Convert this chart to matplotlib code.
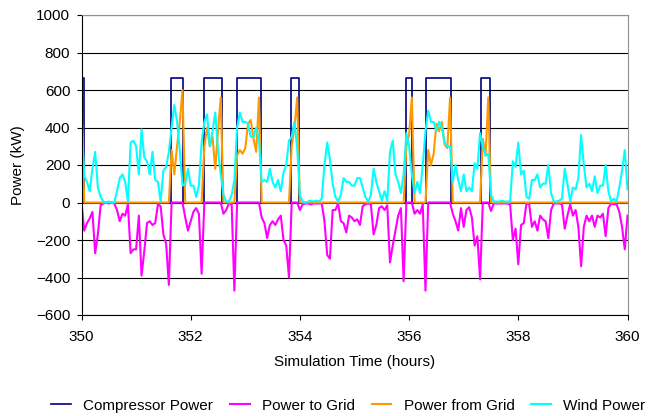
import numpy as np
import matplotlib
matplotlib.use("Agg")
import matplotlib.pyplot as plt

plt.rcParams['font.family'] = ['Liberation Sans', 'DejaVu Sans']

# time grid: 3 minute samples from 350 h to 360 h
t_start, t_step = 350.0, 0.05

# wind power (kW), one value per sample
wind = [468, 140, 110, 60, 180, 270, 80, 30, 5, 0, 5, 0, 0, 60, 130, 150, 110, 5, 320, 330,
        300, 150, 390, 240, 220, 150, 270, 120, 110, 5, 170, 190, 270, 400, 520, 430, 280, 90,
        100, 180, 90, 90, 30, 90, 320,
        430, 470, 300, 380, 480, 280, 150, 40, 5, 5, 40, 120, 400, 480, 430, 430, 420, 350, 350,
        400, 340, 110, 120, 110, 180, 110, 80, 120, 60, 160, 200, 330, 350, 430, 290, 40, 5, 0,
        5, 10, 5, 10, 5, 20, 200, 320,
        230, 100, 30, 5, 40, 130, 110, 110, 90, 90, 130, 130, 80, 30, 5, 40, 180, 110, 60, 10,
        60, 10, 270, 330, 150, 110, 50, 150, 370, 300, 150, 50, 110, 50, 200, 380, 490, 430, 430,
        380, 430, 400, 320, 300, 300, 110, 200, 120, 60,
        150, 60, 80, 60, 210, 180, 370, 300, 250, 260, 40, 5, 5, 5, 10, 5, 5, 5, 220, 190,
        320, 150, 170, 30, 20, 120, 120, 150, 80, 100, 100, 200, 50, 5, 5, 10, 20, 180, 100, 5,
        80, 70, 130, 360, 200, 80, 100, 60, 140, 50, 90, 90, 200, 60, 5, 20, 5, 80, 170, 280, 70]

# power exported to the grid (kW, negative)
to_grid = [0, -150, -110, -85, -50, -270, -170, -15, -5, 0, -5, 0, -5, -40, -100, -60, -70, -10,
           -270, -250, -250, -70, -390, -260, -110, -100, -120, -110, -10, -20, -170, -220, -440,
           0, 0, 0, 0, 0, -80, -150, -100, -50, -30, -60, -380,
           0, 0, 0, 0, 0, 0, 0, -60, -40, -5, -10, -470, 0, 0, 0, 0, 0, 0, 0, 0, 0,
           -80, -110, -190, -120, -100, -120, -90, -70, -200, -230, -400, 0, 0, 0,
           -40, -10, -5, -5, -10, -5, -5, -5, -5, -100, -280,
           -300, -40, -40, -5, -100, -110, -160, -70, -80, -100, -90, -120, -20, -10, -5, -10,
           -170, -120, -30, -20, -40, -15, -320, -230, -150, -70, -30, -420, 0, 0, 0,
           -60, -40, -60, -10, -470, 0, 0, 0, 0, 0, 0, 0, 0, 0, -60, -100, -150, -30,
           -130, -40, -25, -80, -230, -180, -410, 0, 0, 0, -45, -5, -5, -5, -5, -5, -5, -10,
           -200, -140, -330, -120, -110, -5, -10, -130, -100, -150, -70, -90, -100, -190, -40,
           -5, -5, -5, -10, -140, -70, -10, -70, -40, -130, -340, -130, -70, -100, -70, -130,
           -70, -80, -60, -180, -30, -5, -10, -10, -50, -130, -250, -70]

# power imported from the grid (kW)
from_grid = ([550] + [0] * 32
             + [280, 150, 300, 430, 600] + [0] * 7
             + [300, 400, 300, 350, 180, 380, 560] + [0] * 5
             + [250, 280, 260, 290, 420, 440, 340, 270, 560] + [0] * 11
             + [300, 400, 560] + [0] * 39
             + [300, 360, 560] + [0] * 5
             + [280, 200, 260, 420, 380, 430, 310, 290, 560] + [0] * 11
             + [340, 250, 560] + [0] * 51)

# compressor on / off times (hours) and rated power (kW)
comp_on = [350.0, 351.645, 352.25, 352.84, 353.837, 355.95, 356.315, 357.32]
comp_off = [350.046, 351.865, 352.58, 353.28, 353.99, 356.06, 356.767, 357.48]
comp_kw = 665

t = t_start + t_step * np.arange(len(wind))

# step trace for the compressor
ct, cp = [], []
for a, b in zip(comp_on, comp_off):
    if a > t_start:
        ct.append(a); cp.append(0)
    ct += [a, b, b]
    cp += [comp_kw, comp_kw, 0]
ct.append(360.0); cp.append(0)

fig = plt.figure(figsize=(6.57, 4.16), dpi=100)
ax = fig.add_axes([81.5 / 657, 1 - 315 / 416, 546 / 657, 300 / 416])

ax.plot(ct, cp, color='#000080', lw=1.2, label='Compressor Power')
ax.plot(t, to_grid, color='#FF00FF', lw=1.5, label='Power to Grid')
ax.plot(t, from_grid, color='#FF9900', lw=1.5, label='Power from Grid')
ax.plot(t, wind, color='#00FFFF', lw=1.5, label='Wind Power')

ax.set_xlim(350, 360)
ax.set_ylim(-600, 1000)
ax.set_xticks(np.arange(350, 361, 2))
ax.set_yticks(np.arange(-600, 1001, 200))
ax.yaxis.grid(True, color='black', lw=0.8)
ax.set_axisbelow(True)
ax.tick_params(axis='both', direction='out', length=3.6, width=0.8, labelsize=11, color='black')
ax.tick_params(axis='y', pad=4.5)
ax.tick_params(axis='x', pad=7)
for s in ['top', 'right']:
    ax.spines[s].set_color('#909090')
for s in ['left', 'bottom']:
    ax.spines[s].set_color('black')

ax.set_xlabel('Simulation Time (hours)', fontsize=11, labelpad=8)
fig.text(18 / 657, 1 - 165 / 416, 'Power (kW)', rotation=90, fontsize=11, ha='center', va='center')

fig.legend(loc='center', bbox_to_anchor=(0.53, 0.025), ncol=4, frameon=False, fontsize=11,
           handlelength=1.3, handletextpad=0.8, columnspacing=1.1)

fig.savefig('out.png', dpi=100)
